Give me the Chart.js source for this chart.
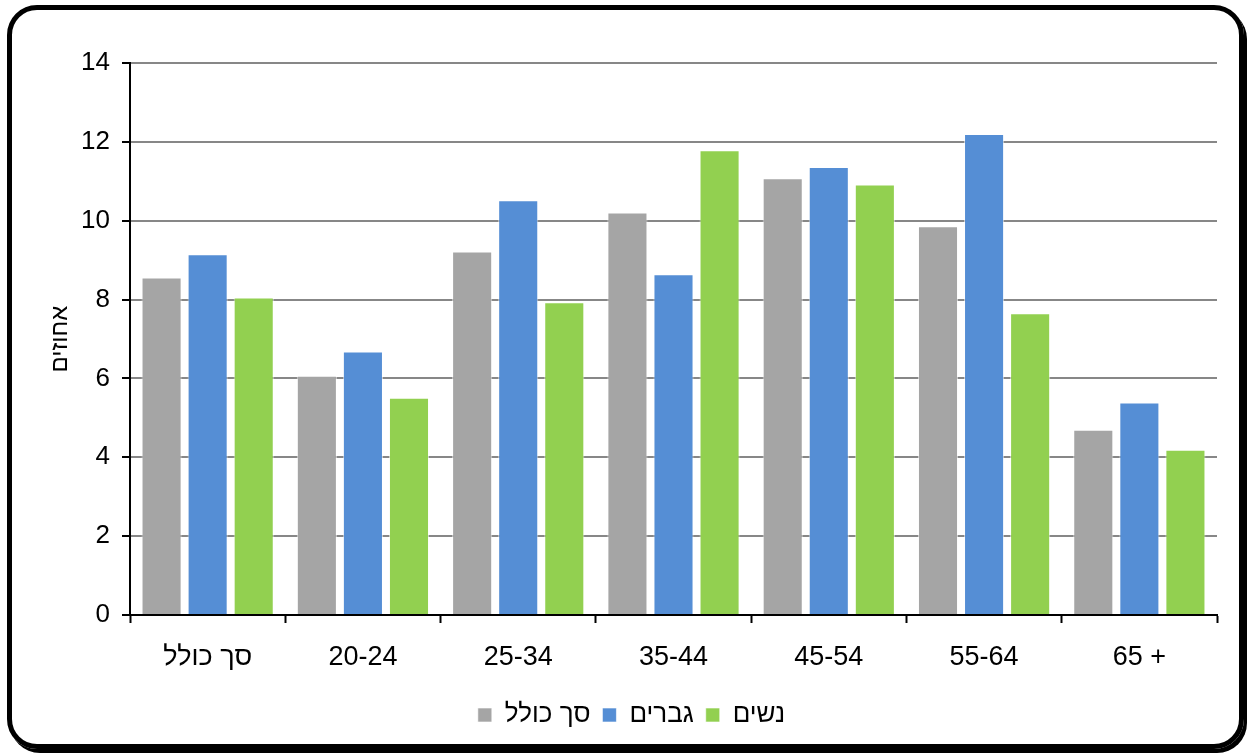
<!DOCTYPE html>
<html>
<head>
<meta charset="utf-8">
<script src="https://cdn.jsdelivr.net/npm/chart.js@4"></script>
<style>
  html, body { margin: 0; padding: 0; background: #fff; overflow: hidden; }
  #wrap { position: relative; width: 1249px; height: 754px; }
  #c { position: absolute; left: 0; top: 0; }
  #frame { position: absolute; left: 7px; top: 5px; width: 1237px; height: 744px; box-sizing: border-box;
           border: 5px solid #000; border-radius: 30px; box-shadow: 3px 4px 0 #000; pointer-events: none; }
</style>
</head>
<body>
<div id="wrap">
  <canvas id="c" width="1249" height="754"></canvas>
  <div id="frame"></div>
</div>
<script>
const categories = ["סך כולל", "20-24", "25-34", "35-44", "45-54", "55-64", "65 +"];
const seriesNames = ["סך כולל", "גברים", "נשים"];
const totalValues = [8.56, 6.07, 9.22, 10.21, 11.08, 9.86, 4.70];
const menValues   = [9.15, 6.68, 10.52, 8.64, 11.36, 12.20, 5.39];
const womenValues = [8.05, 5.51, 7.93, 11.79, 10.92, 7.65, 4.19];
const yTicks = [0, 2, 4, 6, 8, 10, 12, 14];
const yTitle = "אחוזים";
const colors = ["#A5A5A5", "#558ED5", "#92D050"];

const FONT = "'Liberation Sans', Arial, sans-serif";
const values = [totalValues, menValues, womenValues];

new Chart(document.getElementById('c'), {
  type: 'bar',
  data: {
    labels: categories,
    datasets: seriesNames.map((n, i) => ({
      label: n,
      data: values[i],
      backgroundColor: colors[i],
      borderColor: 'rgba(255,255,255,0.6)',
      borderWidth: 1,
      categoryPercentage: 0.89,
      barPercentage: 0.87
    }))
  },
  options: {
    responsive: false,
    animation: false,
    layout: { padding: { left: 46, right: 32, top: 63, bottom: 16 } },
    plugins: {
      tooltip: { enabled: false },
      legend: {
        position: 'bottom',
        labels: {
          color: '#000',
          font: { family: FONT, size: 26 },
          boxWidth: 14,
          boxHeight: 14,
          padding: 12
        }
      }
    },
    scales: {
      x: {
        afterFit: (s) => { s.height = 75; },
        grid: {
          offset: true,
          drawOnChartArea: false,
          drawTicks: true,
          tickLength: 8,
          tickColor: '#000',
          tickWidth: 2
        },
        border: { color: '#000', width: 2 },
        ticks: { color: '#000', font: { family: FONT, size: 27 }, padding: 18, maxRotation: 0 }
      },
      y: {
        min: 0, max: 14,
        afterFit: (s) => { s.width = 84; },
        afterBuildTicks: (s) => { s.ticks = yTicks.map(v => ({ value: v })); },
        grid: {
          color: '#878787',
          lineWidth: 2,
          tickLength: 8,
          tickColor: '#000',
          tickWidth: 2
        },
        border: { color: '#000', width: 2 },
        ticks: { color: '#000', font: { family: FONT, size: 26 }, padding: 12 },
        title: {
          display: true,
          text: yTitle,
          color: '#000',
          font: { family: FONT, size: 24 },
          padding: { top: 0, bottom: 0 }
        }
      }
    }
  }
});
</script>
</body>
</html>
